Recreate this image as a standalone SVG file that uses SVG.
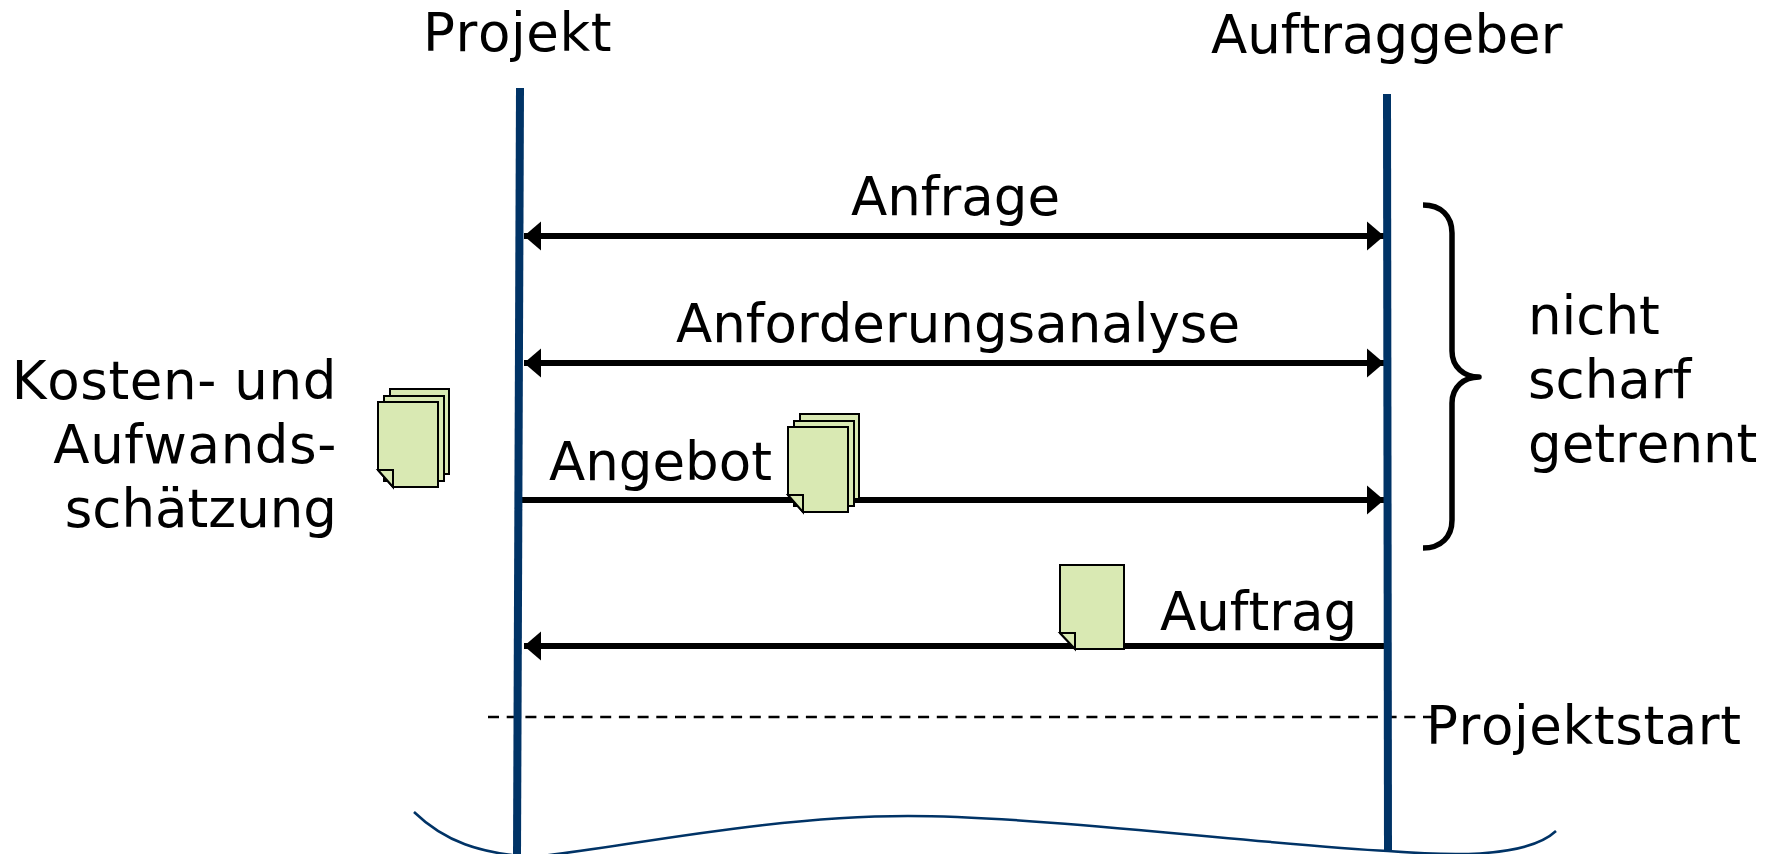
<svg xmlns="http://www.w3.org/2000/svg" width="1777" height="854" viewBox="0 0 1777 854">
<style>
text{font-family:"DejaVu Sans",Verdana,sans-serif;font-size:53px;fill:#000;font-kerning:none}
.sp{letter-spacing:.6px}
.life{stroke:#003366;stroke-width:8;fill:none}
.arrow{stroke:#000;stroke-width:6;fill:none}
.doc{fill:#d9e9b3;stroke:#000;stroke-width:2}
.fold{fill:#d9e9b3;stroke:#000;stroke-width:2;stroke-linejoin:miter}
</style>
<defs>
<marker id="ah" markerUnits="userSpaceOnUse" markerWidth="18" markerHeight="30" refX="17" refY="15" orient="auto-start-reverse"><path d="M0 0.5L17 15L0 29.5Z" fill="#000"/></marker>
<g id="page"><path class="doc" d="M0 0H60V85H15L0 68Z"/><path class="fold" d="M0 68H15V85Z"/></g>
<g id="stack"><rect class="doc" x="12" y="-13" width="59" height="85"/><rect class="doc" x="6" y="-6" width="60" height="85"/><use href="#page"/></g>
</defs>
<g id="connectors">
<path class="arrow" d="M524 236H1384" marker-start="url(#ah)" marker-end="url(#ah)"/>
<path class="arrow" d="M524 363H1384" marker-start="url(#ah)" marker-end="url(#ah)"/>
<path class="arrow" d="M522 500H1384" marker-end="url(#ah)"/>
<path class="arrow" d="M1386 646H524" marker-end="url(#ah)"/>
<path d="M488 717H1432" stroke="#000" stroke-width="2.5" stroke-dasharray="11 7.7" fill="none"/>
</g>
<g id="lifeline-projekt"><path class="life" d="M520 88L517 854"/></g>
<g id="lifeline-auftraggeber"><path class="life" d="M1387 94L1388 851"/></g>
<g id="title-projekt"><text class="sp" x="423" y="51">Projekt</text></g>
<g id="title-auftraggeber"><text x="1211" y="53">Auftraggeber</text></g>
<g id="label-anfrage"><text x="851" y="215">Anfrage</text></g>
<g id="label-anforderungsanalyse"><text x="676" y="342">Anforderungsanalyse</text></g>
<g id="label-angebot"><text x="549" y="480">Angebot</text></g>
<g id="label-auftrag"><text x="1160" y="630">Auftrag</text></g>
<g id="label-projektstart"><text class="sp" x="1426" y="744">Projektstart</text></g>
<g id="label-kosten"><text class="sp" x="337" y="399" text-anchor="end">Kosten- und</text><text class="sp" x="337" y="463" text-anchor="end">Aufwands-</text><text x="337" y="527" text-anchor="end">schätzung</text></g>
<g id="label-nicht"><text x="1528" y="334">nicht</text><text x="1528" y="398">scharf</text><text x="1528" y="462">getrennt</text></g>
<g id="doc-kosten"><use href="#stack" x="378" y="402"/></g>
<g id="doc-angebot"><use href="#stack" x="788" y="427"/></g>
<g id="doc-auftrag"><path class="doc" d="M1060 565H1124V649H1075L1060 633Z"/><path class="fold" d="M1060 633H1075V649Z"/></g>
<g id="brace"><path d="M1423 205C1441 205 1452 216 1452 233V351C1452 367 1464 377 1479 377C1464 377 1452 387 1452 403V520C1452 537 1441 548 1423 548" fill="none" stroke="#000" stroke-width="5.5" stroke-linejoin="round"/></g>
<g id="break-curve"><path d="M414 812C445 842 480 853 530 857C600 852 760 816 908 816C1040 816 1270 845 1388 851C1440 855 1525 860 1556 831" fill="none" stroke="#003366" stroke-width="2.5"/></g>
</svg>
